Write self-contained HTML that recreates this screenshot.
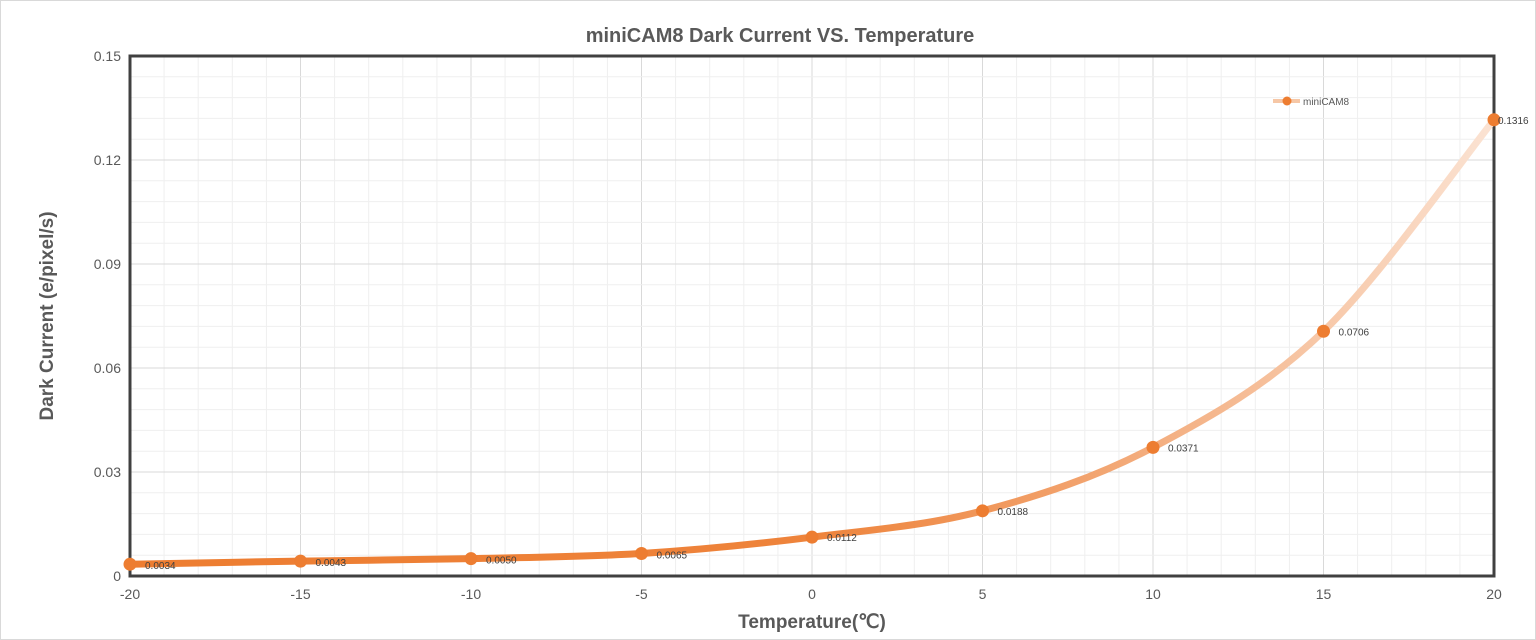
<!DOCTYPE html>
<html><head><meta charset="utf-8"><style>
body{margin:0;background:#fff;}
svg{display:block;font-family:"Liberation Sans",sans-serif;}
</style></head><body>
<svg id="s" width="1536" height="640" xmlns="http://www.w3.org/2000/svg">
<defs>
<linearGradient id="g" x1="130" y1="0" x2="1494" y2="0" gradientUnits="userSpaceOnUse">
<stop offset="0" stop-color="#ed7d31"/>
<stop offset="0.5" stop-color="#ed7d31" stop-opacity="0.95"/>
<stop offset="0.7" stop-color="#f2a36e"/>
<stop offset="1" stop-color="#fbe3d3"/>
</linearGradient>
</defs>
<rect x="0.5" y="0.5" width="1535" height="639" fill="#fff" stroke="#d9d9d9"/>
<g id="grid"></g>
<text x="780" y="42" text-anchor="middle" font-size="20" font-weight="bold" fill="#595959">miniCAM8 Dark Current VS. Temperature</text>
<text x="812" y="628" text-anchor="middle" font-size="19" font-weight="bold" fill="#595959">Temperature(℃)</text>
<text transform="translate(53,316) rotate(-90)" text-anchor="middle" font-size="19" font-weight="bold" fill="#595959">Dark Current (e/pixel/s)</text>
<g id="ticks" font-size="14" fill="#595959"></g>
<rect x="130" y="56" width="1364" height="520" fill="none" stroke="#404040" stroke-width="3"/>
<path id="curve" fill="none" stroke="url(#g)" stroke-width="7" stroke-linecap="round"/>
<g id="pts"></g>
<line x1="1273" y1="101" x2="1300" y2="101" stroke="#f6c7a6" stroke-width="4"/>
<circle cx="1287" cy="101" r="4.5" fill="#ed7d31"/>
<text x="1303" y="105" font-size="10" fill="#595959">miniCAM8</text>
</svg>
<script>
var NS="http://www.w3.org/2000/svg";
function el(p,t,a,txt){var e=document.createElementNS(NS,t);for(var k in a)e.setAttribute(k,a[k]);if(txt!=null)e.textContent=txt;p.appendChild(e);return e;}
var L=130,R=1494,T=56,B=576;
function X(t){return L+(t+20)/40*(R-L);}
function Y(v){return B-v/0.15*(B-T);}
var g=document.getElementById('grid');
for(var i=-20;i<=20;i++){el(g,'line',{x1:X(i),x2:X(i),y1:T,y2:B,stroke:i%5==0?'#d9d9d9':'#efefef','stroke-width':1});}
for(var j=0;j<=25;j++){var v=j*0.006;el(g,'line',{x1:L,x2:R,y1:Y(v),y2:Y(v),stroke:j%5==0?'#d9d9d9':'#efefef','stroke-width':1});}
var tk=document.getElementById('ticks');
for(var i=-20;i<=20;i+=5)el(tk,'text',{x:X(i),y:599,'text-anchor':'middle'},String(i));
var yl=['0','0.03','0.06','0.09','0.12','0.15'];
for(var j=0;j<6;j++)el(tk,'text',{x:121,y:Y(j*0.03)+5,'text-anchor':'end'},yl[j]);
var d=[0.0034,0.0043,0.0050,0.0065,0.0112,0.0188,0.0371,0.0706,0.1316];
var lab=['0.0034','0.0043','0.0050','0.0065','0.0112','0.0188','0.0371','0.0706','0.1316'];
var P=d.map(function(v,i){return [X(-20+5*i),Y(v)];});
var s='M'+P[0][0]+','+P[0][1];
for(var i=0;i<P.length-1;i++){var p0=P[Math.max(0,i-1)],p1=P[i],p2=P[i+1],p3=P[Math.min(P.length-1,i+2)];
var c1=[p1[0]+(p2[0]-p0[0])/6,p1[1]+(p2[1]-p0[1])/6],c2=[p2[0]-(p3[0]-p1[0])/6,p2[1]-(p3[1]-p1[1])/6];
s+=' C'+c1+' '+c2+' '+p2;}
document.getElementById('curve').setAttribute('d',s);
var pg=document.getElementById('pts');
P.forEach(function(p,i){el(pg,'circle',{cx:p[0],cy:p[1],r:6.5,fill:'#ed7d31'});
el(pg,'text',{x:p[0]+(i==8?4:15),y:p[1]+(i<4?5:4),'font-size':10,fill:'#404040'},lab[i]);});
</script>
</body></html>
